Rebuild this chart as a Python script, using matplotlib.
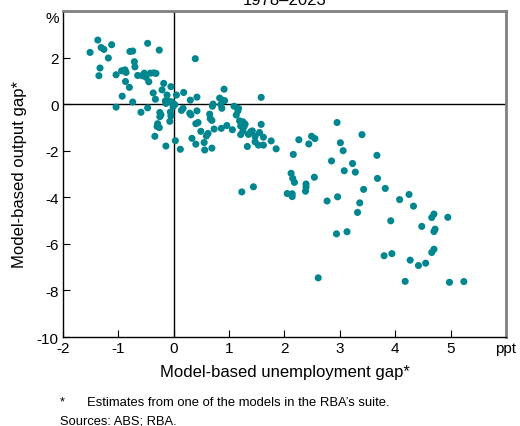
import matplotlib.pyplot as plt

plt.rcParams['font.family'] = ['Liberation Sans', 'DejaVu Sans']

# unemployment gap (ppt) and output gap (%)
unemp_gap = [
    -1.37, -1.51, -1.31, -1.26, -1.12, -1.18, -0.47, -0.79, -0.74, -0.26,
    -0.71, -0.70, -1.33, -1.35, -1.04, -0.94, -0.88, -0.86, -0.87, -0.80,
    -0.65, -0.57, -0.53, -0.50, -0.45, -0.42, -0.36, -0.32, -0.93, -0.74,
    -1.04, -0.37, -0.33, -0.59, -0.47, -0.29, -0.30, -0.26, -0.34, -0.18,
    -0.21, -0.05, -0.12, -0.15, -0.14, -0.08, -0.03, 0.02, -0.01, 0.05,
    0.18, -0.25, -0.23, -0.25, -0.06, -0.05, -0.07, 0.17, 0.14, 0.30,
    0.42, 0.29, 0.31, 0.42, -0.14, 0.03, 0.12, 0.39, 0.33, 0.40,
    0.44, 0.40, 0.49, 0.59, 0.62, 0.55, 0.56, 0.69, 0.65, 0.66,
    0.69, 0.73, 0.71, 0.70, 0.83, 0.88, 0.92, 0.85, 0.87, 0.91,
    0.86, 0.96, 1.06, 1.09, 1.17, 1.16, 1.13, 1.19, 1.25, 1.29,
    1.21, 1.27, 1.21, 1.25, 1.33, 1.35, 1.39, 1.42, 1.47, 1.47,
    1.53, 1.55, 1.62, 1.58, 1.58, 1.62, 1.76, 1.85, 1.23, 1.44,
    2.16, 2.26, 2.49, 2.55, 2.44, 2.12, 2.15, 2.18, 2.54, 2.39,
    2.39, 2.38, 2.05, 2.14, 2.14, 2.61, 2.95, 3.01, 3.06, 2.85,
    3.08, 3.28, 3.23, 2.77, 2.96, 2.94, 3.13, 3.40, 3.67, 3.68,
    3.43, 3.82, 3.36, 3.32, 4.08, 4.25, 4.33, 3.92, 4.48, 4.66,
    4.70, 4.95, 4.70, 4.72, 3.80, 3.94, 4.66, 4.70, 4.27, 4.42,
    4.55, 4.18, 4.98, 5.24,
]
output_gap = [
    2.75, 2.22, 2.43, 2.35, 2.55, 1.98, 2.61, 2.26, 2.28, 2.32,
    1.82, 1.60, 1.55, 1.22, 1.26, 1.43, 1.47, 1.36, 0.97, 0.72,
    1.23, 1.22, 1.33, 1.15, 0.96, 1.33, 1.34, 1.32, 0.34, 0.09,
    -0.13, 0.48, 0.21, -0.35, -0.16, -0.84, -0.96, -1.01, -1.38, 0.89,
    0.61, 0.75, 0.39, 0.14, 0.03, 0.12, 0.09, -0.02, -0.10, 0.39,
    0.50, -0.36, -0.46, -0.54, -0.34, -0.50, -0.74, -0.18, -0.27, 0.17,
    0.30, -0.39, -0.46, -0.29, -1.80, -1.57, -1.94, 1.95, -1.47, -0.84,
    -0.79, -1.72, -1.17, -1.37, -1.26, -1.65, -1.97, -1.89, -0.43, -0.62,
    -0.70, -1.07, 0.00, -0.09, 0.26, 0.17, 0.15, -0.02, -0.18, 0.64,
    -1.04, -0.92, -1.10, -0.09, -0.18, -0.29, -0.47, -0.72, -0.76, -0.86,
    -0.94, -0.97, -1.31, -1.16, -1.82, -1.30, -1.19, -1.15, -1.39, -1.62,
    -1.76, -1.22, -1.42, -0.87, 0.29, -1.76, -1.58, -1.92, -3.77, -3.55,
    -2.16, -1.53, -1.38, -1.48, -1.71, -2.97, -3.19, -3.36, -3.14, -3.43,
    -3.56, -3.74, -3.84, -3.85, -3.97, -7.46, -0.79, -1.66, -2.00, -2.44,
    -2.86, -2.92, -2.55, -4.16, -3.98, -5.57, -5.48, -1.31, -2.20, -3.19,
    -3.66, -3.62, -4.24, -4.65, -4.10, -3.88, -4.38, -5.01, -5.25, -4.87,
    -4.72, -4.86, -5.47, -5.37, -6.51, -6.42, -6.37, -6.23, -6.70, -6.93,
    -6.83, -7.61, -7.65, -7.62,
]

x_ticks = [-2, -1, 0, 1, 2, 3, 4, 5, 6]
x_labels = ['-2', '-1', '0', '1', '2', '3', '4', '5', 'ppt']
y_ticks = [-10, -8, -6, -4, -2, 0, 2, 4]
y_labels = ['-10', '-8', '-6', '-4', '-2', '0', '2', '%']

fig = plt.figure(figsize=(5.2, 4.27), dpi=100)
ax = fig.add_axes([0.121, 0.2084, 0.852, 0.7636])

ax.axhline(0, color='black', lw=1, zorder=1)
ax.axvline(0, color='black', lw=1, zorder=1)
ax.scatter(unemp_gap, output_gap, s=26, color='#00868f', edgecolors='none', zorder=3)

ax.set_xlim(-2, 6)
ax.set_ylim(-10, 4)
ax.set_xticks(x_ticks)
ax.set_xticklabels(x_labels)
ax.set_yticks(y_ticks)
ax.set_yticklabels(y_labels)
ax.tick_params(direction='in', length=5, width=0.8, labelsize=11, colors='black')
ax.tick_params(axis='x', pad=3)
ax.tick_params(axis='y', pad=3)
ax.get_yticklabels()[-1].set_va('top')

for side in ['left', 'bottom']:
    ax.spines[side].set_color('black')
    ax.spines[side].set_linewidth(1)
for side in ['top', 'right']:
    ax.spines[side].set_color('#808080')
    ax.spines[side].set_linewidth(2)

ax.set_xlabel('Model-based unemployment gap*', fontsize=12, labelpad=6)
ax.set_ylabel('Model-based output gap*', fontsize=12, labelpad=7)

fig.text(285 / 520, 1 - 5 / 427, '1978\u20132023', ha='center', va='baseline', fontsize=12)
fig.text(60 / 520, 1 - 405 / 427, '*', ha='left', va='baseline', fontsize=9.3)
fig.text(87 / 520, 1 - 406 / 427, 'Estimates from one of the models in the RBA\u2019s suite.',
         ha='left', va='baseline', fontsize=9.4)
fig.text(60 / 520, 1 - 424.5 / 427, 'Sources: ABS; RBA.', ha='left', va='baseline', fontsize=9.3)

fig.savefig('out.png', dpi=100)
